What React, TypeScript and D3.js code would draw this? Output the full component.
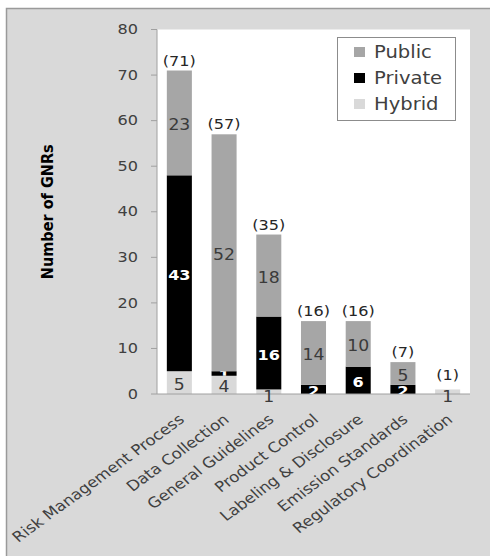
import React from "react";
import * as d3 from "d3";

// Categories of governance measures and counts by sector
const categories = [
  "Risk Management Process",
  "Data Collection",
  "General Guidelines",
  "Product Control",
  "Labeling & Disclosure",
  "Emission Standards",
  "Regulatory Coordination",
];
const hybrid = [5, 4, 1, 0, 0, 0, 1];
const privateVals = [43, 1, 16, 2, 6, 2, 0];
const publicVals = [23, 52, 18, 14, 10, 5, 0];
const yTicks = [0, 10, 20, 30, 40, 50, 60, 70, 80];

const seriesKeys = ["hybrid", "private", "public"];
const seriesLabels: Record<string, string> = {
  public: "Public",
  private: "Private",
  hybrid: "Hybrid",
};
const colors: Record<string, string> = {
  public: "#a6a6a6",
  private: "#000000",
  hybrid: "#d9d9d9",
};
const labelColors: Record<string, string> = {
  public: "#3a3a3a",
  private: "#ffffff",
  hybrid: "#3a3a3a",
};

const W = 490;
const H = 556;
const plot = { left: 157, right: 470, top: 29.5, bottom: 394 };
const FONT = "'DejaVu Sans', Verdana, sans-serif";
// the chart's lettering is set slightly wide
const SX = 1.15;
const at = (px: number, py: number) => `translate(${px},${py}) scale(${SX},1)`;

export default function App() {
  const rows = categories.map((c, i) => ({
    category: c,
    hybrid: hybrid[i],
    private: privateVals[i],
    public: publicVals[i],
  }));
  const stacked = d3.stack<any>().keys(seriesKeys)(rows);

  const x = d3
    .scaleBand<string>()
    .domain(categories)
    .range([plot.left, plot.right])
    .paddingInner(0.44)
    .paddingOuter(0.22);
  const y = d3.scaleLinear().domain([0, 80]).range([plot.bottom, plot.top]);
  const cx = (c: string) => (x(c) as number) + x.bandwidth() / 2;

  const totals = rows.map((r) => r.hybrid + r.private + r.public);

  return (
    <svg
      width={W}
      height={H}
      style={{ position: "absolute", left: 0, top: 0, display: "block" }}
      fontFamily={FONT}
    >
      <defs>
        {stacked.map((layer) =>
          layer.map((d, i) => (
            <clipPath key={`cp-${layer.key}-${i}`} id={`cp-${layer.key}-${i}`} clipPathUnits="userSpaceOnUse">
              <rect
                x={x(categories[i])}
                y={y(d[1])}
                width={x.bandwidth()}
                height={Math.max(0, y(d[0]) - y(d[1]))}
              />
            </clipPath>
          ))
        )}
      </defs>
      <rect x={0} y={0} width={W} height={H} fill="#ffffff" />
      {/* chart area */}
      <rect x={6.5} y={8.5} width={W + 10} height={H + 10} fill="#d9d9d9" stroke="#9a9a9a" strokeWidth={1.5} />
      {/* plot area */}
      <rect
        x={plot.left}
        y={plot.top}
        width={plot.right - plot.left}
        height={plot.bottom - plot.top}
        fill="#ffffff"
      />

      {/* y axis */}
      <line x1={plot.left} x2={plot.left} y1={plot.top} y2={plot.bottom} stroke="#a0a0a0" />
      {yTicks.map((t) => (
        <g key={t}>
          <line x1={plot.left - 6} x2={plot.left} y1={y(t)} y2={y(t)} stroke="#a0a0a0" />
          <text
            transform={at(plot.left - 19, y(t))}
            textAnchor="end"
            dominantBaseline="central"
            fontSize={14}
            fill="#404040"
          >
            {t}
          </text>
        </g>
      ))}
      <text
        transform={`translate(48,${(plot.top + plot.bottom) / 2}) scale(${SX},1) rotate(-90)`}
        textAnchor="middle"
        dominantBaseline="central"
        fontSize={14.5}
        fontWeight="bold"
        fill="#000"
      >
        Number of GNRs
      </text>

      {/* bars */}
      {stacked.map((layer) => (
        <g key={layer.key}>
          {layer.map((d, i) => {
            const v = d[1] - d[0];
            if (v <= 0) return null;
            return (
              <rect
                key={i}
                x={x(categories[i])}
                y={y(d[1])}
                width={x.bandwidth()}
                height={y(d[0]) - y(d[1])}
                fill={colors[layer.key]}
              />
            );
          })}
        </g>
      ))}

      {/* x axis */}
      <line x1={plot.left} x2={plot.right} y1={plot.bottom} y2={plot.bottom} stroke="#a0a0a0" />

      {/* segment value labels */}
      {stacked.map((layer) => (
        <g key={"l" + layer.key}>
          {layer.map((d, i) => {
            const v = d[1] - d[0];
            if (v <= 0) return null;
            const segH = y(d[0]) - y(d[1]);
            let cy = (y(d[0]) + y(d[1])) / 2 + 2;
            // thin hybrid slices carry their label on the axis line
            if (layer.key === "hybrid" && segH < 12) cy = plot.bottom + 3;
            const isPrivate = layer.key === "private";
            const label = (
              <text
                transform={at(cx(categories[i]), cy)}
                textAnchor="middle"
                dominantBaseline="central"
                fontSize={isPrivate ? 14 : 15}
                fontWeight={isPrivate ? "bold" : "normal"}
                fill={labelColors[layer.key]}
              >
                {v}
              </text>
            );
            // white labels only show inside their own black slice
            return isPrivate ? (
              <g key={i} clipPath={`url(#cp-private-${i})`}>
                {label}
              </g>
            ) : (
              <g key={i}>{label}</g>
            );
          })}
        </g>
      ))}

      {/* totals */}
      {categories.map((c, i) => (
        <text
          key={"t" + c}
          transform={at(cx(c), y(totals[i]) - 5 - (totals[i] < 3 ? 4 : 0))}
          textAnchor="middle"
          fontSize={14}
          fill="#262626"
        >
          ({totals[i]})
        </text>
      ))}

      {/* category labels */}
      {categories.map((c) => (
        <text
          key={"c" + c}
          transform={`translate(${cx(c) + 6},${plot.bottom + 27}) scale(${SX},1) rotate(-40)`}
          textAnchor="end"
          fontSize={14.5}
          fill="#404040"
        >
          {c}
        </text>
      ))}

      {/* legend */}
      <g>
        <rect x={337.5} y={37.5} width={118} height={83} fill="#ffffff" stroke="#8c8c8c" />
        {["public", "private", "hybrid"].map((k, i) => (
          <g key={"lg" + k}>
            <rect x={354} y={47 + i * 26} width={11} height={10} fill={colors[k]} />
            <text
              transform={at(374, 52 + i * 26)}
              dominantBaseline="central"
              fontSize={17}
              fill="#404040"
            >
              {seriesLabels[k]}
            </text>
          </g>
        ))}
      </g>
    </svg>
  );
}
